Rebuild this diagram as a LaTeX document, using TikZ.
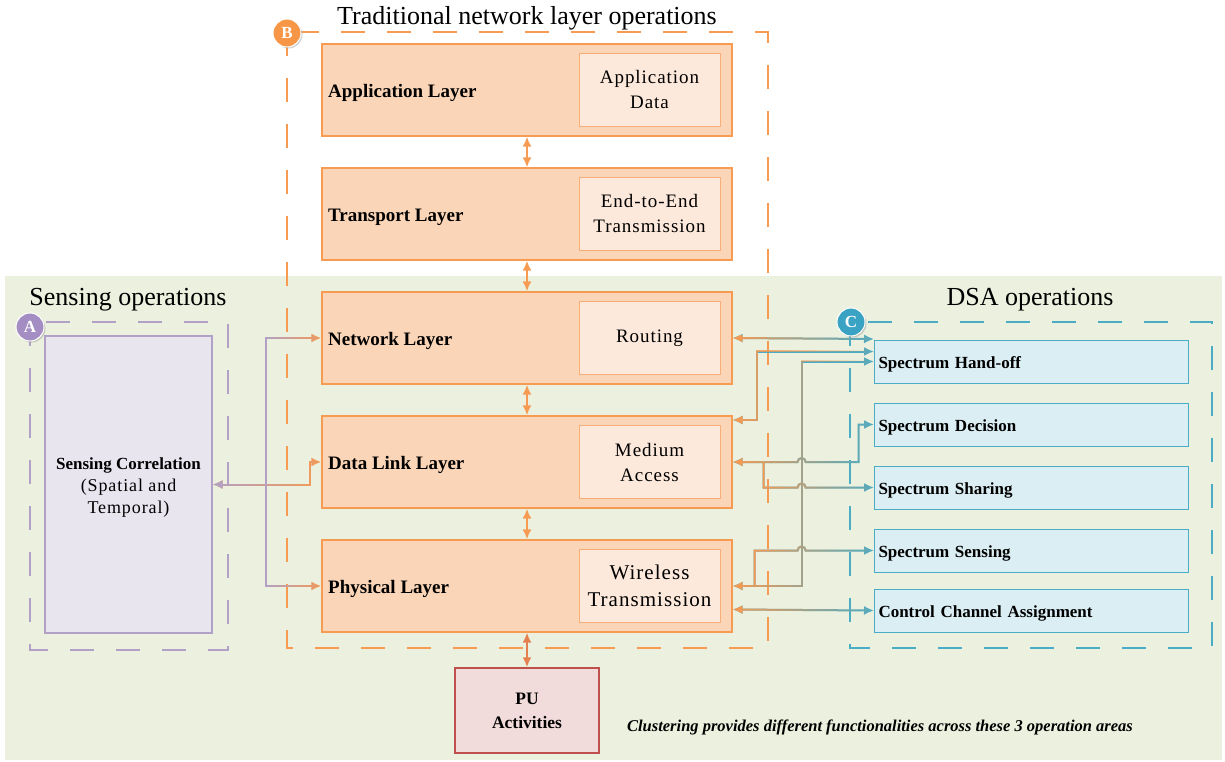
\documentclass[tikz,border=0pt]{standalone}
\usepackage{fontspec}
\setmainfont{Liberation Serif}
\newfontfamily\spacedrm[LetterSpace=5]{Liberation Serif}
\usetikzlibrary{arrows.meta,shadows,fadings}
\definecolor{bggreen}{HTML}{EBF1DE}
\definecolor{layerfill}{HTML}{FBD5B7}
\definecolor{layerline}{HTML}{F79A52}
\definecolor{innerfill}{HTML}{FDE9DB}
\definecolor{sensfill}{HTML}{E9E5EF}
\definecolor{senslila}{HTML}{B2A1C7}
\definecolor{dsafill}{HTML}{DAEEF3}
\definecolor{dsaline}{HTML}{4BACC6}
\definecolor{pufill}{HTML}{F2DCDB}
\definecolor{puline}{HTML}{C0504D}
\definecolor{badgea}{HTML}{A48DC2}
\definecolor{badgeb}{HTML}{F79646}
\definecolor{badgec}{HTML}{3AA2C2}
\colorlet{pulink}{layerline!65!puline}
\tikzset{layerbox/.style={draw=layerline,fill=layerfill,line width=1.2pt,minimum width=410pt,minimum height=92pt,inner sep=0},
         layerlbl/.style={anchor=west,inner sep=0,font=\bfseries\fontsize{19}{23}\selectfont},
         innerbox/.style={draw=layerline!80,fill=innerfill,line width=1pt,minimum width=141pt,minimum height=73pt,inner sep=0,align=center},
         dsabox/.style={draw=dsaline,fill=dsafill,line width=1pt,anchor=west,minimum width=314pt,minimum height=43pt,
                        text width=306pt,text height=17pt,inner xsep=4pt,align=left,font=\bfseries\fontsize{17}{20}\selectfont},
         dashbox/.style={line width=1.5pt,dash pattern=on 24pt off 22pt},
         badge/.style={circle,fill=#1,draw=white,line width=1pt,minimum size=28pt,inner sep=0,text=white,
                       font=\bfseries\fontsize{17}{17}\selectfont,drop shadow={shadow xshift=1.5pt,shadow yshift=-1.5pt,opacity=.35}},
         title/.style={inner sep=0,font=\fontsize{26}{30}\selectfont},
         vlink/.style={draw=layerline,line width=2pt,<->},
         link/.style 2 args={draw=#2,line width=2pt,postaction={draw=#1,path fading=east}}
}

\begin{document}
\begin{tikzpicture}[x=1pt,y=-1pt,>={Latex[length=10pt,width=9pt]}]
  \useasboundingbox (0,0) rectangle (1225,762);
  \fill[bggreen] (5,276) rectangle (1222,760);
  % the three operation areas
  \draw[dashbox,layerline] (287,32) rectangle (768,648);
  \draw[dashbox,senslila] (30,322) rectangle (228,650);
  \draw[dashbox,dsaline] (850,322) rectangle (1212,648);
  \node[title] (trad-title) at (527,18) {Traditional network layer operations};
  \node[title] (sens-title) at (128,300) {Sensing operations};
  \node[title] (dsa-title) at (1030,300) {DSA operations};

  \foreach \n/\y/\lbl/\inr/\fs/\ls in {app/90/Application Layer/{Application\\Data}/19/25,
                                       tra/214/Transport Layer/{End-to-End\\Transmission}/19/25,
                                       net/338/Network Layer/Routing/19/25,
                                       dll/462/Data Link Layer/{Medium\\Access}/19/25,
                                       phy/586/Physical Layer/{Wireless\\Transmission}/21/27} {
     \node[layerbox] (\n) at (527,\y) {};
     \node[layerlbl] (\n-lbl) at (328,\y+3) {\lbl};
     \node[innerbox,font=\spacedrm\fontsize{\fs}{\ls}\selectfont] (\n-in) at (649.5,\y) {\inr};
  }
  \draw[vlink] (app.south) -- (tra.north);
  \draw[vlink] (tra.south) -- (net.north);
  \draw[vlink] (net.south) -- (dll.north);
  \draw[vlink] (dll.south) -- (phy.north);

  \node[draw=puline,fill=pufill,line width=1.5pt,minimum width=144pt,minimum height=85pt,align=center,
        font=\bfseries\fontsize{17.5}{24}\selectfont] (pu) at (527,710.5) {PU\\Activities};
  \draw[vlink,draw=pulink] (phy.south) -- (pu.north);

  \node[draw=senslila,fill=sensfill,line width=1.2pt,minimum width=167pt,minimum height=297pt] (corr) at (128.5,484.5) {};
  \node[align=center,font=\fontsize{17}{22}\selectfont] (corr-text) at (128.5,488)
        {\textbf{Sensing Correlation}\\{\spacedrm\fontsize{18}{22}\selectfont(Spatial and}\\{\spacedrm\fontsize{18}{22}\selectfont Temporal)}};

  \foreach \n/\y/\lbl in {hof/361.5/Spectrum Hand-off,dec/424.5/Spectrum Decision,sha/487.5/Spectrum Sharing,
                          sen/550.5/Spectrum Sensing,cca/610.5/Control Channel Assignment}
     \node[dsabox] (\n) at (874,\y) {\lbl};

  % sensing side
  \coordinate (corr-join) at ([xshift=53pt]corr.east);
  \draw[link={senslila}{layerline},<->] (corr.east) -- ++(97,0) |- (dll.west);
  \draw[link={senslila}{layerline},<->] (net.west) -| (corr-join) |- (phy.west);

  % DSA side
  \coordinate (dll-split) at ([xshift=31pt]dll.east);
  \coordinate (phy-split) at ([xshift=22pt]phy.east);
  \draw[link={layerline}{dsaline},<->] (net.east) -- ([yshift=-1pt]net.east -| hof.west);
  \draw[link={layerline}{dsaline},<->] ([yshift=42pt]dll.east) -- ++(24,0) |- ([yshift=10pt]hof.west);
  \draw[link={layerline}{dsaline},<->] (phy.east) -- ++(69,0) |- (hof.west);
  \draw[link={layerline}{dsaline},<->] (dll.east) -- ++(65,0) arc[start angle=180,end angle=360,radius=4] -- ++(53,0) |- (dec.west);
  \draw[link={layerline}{dsaline},->] (dll-split) -- (dll-split |- sha.west) -- ++(34,0) arc[start angle=180,end angle=360,radius=4] -- (sha.west);
  \draw[link={layerline}{dsaline},->] (phy-split) -- (phy-split |- sen.west) -- ++(43,0) arc[start angle=180,end angle=360,radius=4] -- (sen.west);
  \draw[link={layerline}{dsaline},<->] ([yshift=1pt]phy.east |- cca.west) -- (cca.west);

  \node[badge=badgea] (badge-a) at (30,327) {A};
  \node[badge=badgeb] (badge-b) at (287,33) {B};
  \node[badge=badgec] (badge-c) at (851,322) {C};

  \node[font=\bfseries\itshape\fontsize{16.5}{19}\selectfont] (note) at (880,727)
        {Clustering provides different functionalities across these 3 operation areas};
\end{tikzpicture}
\end{document}
